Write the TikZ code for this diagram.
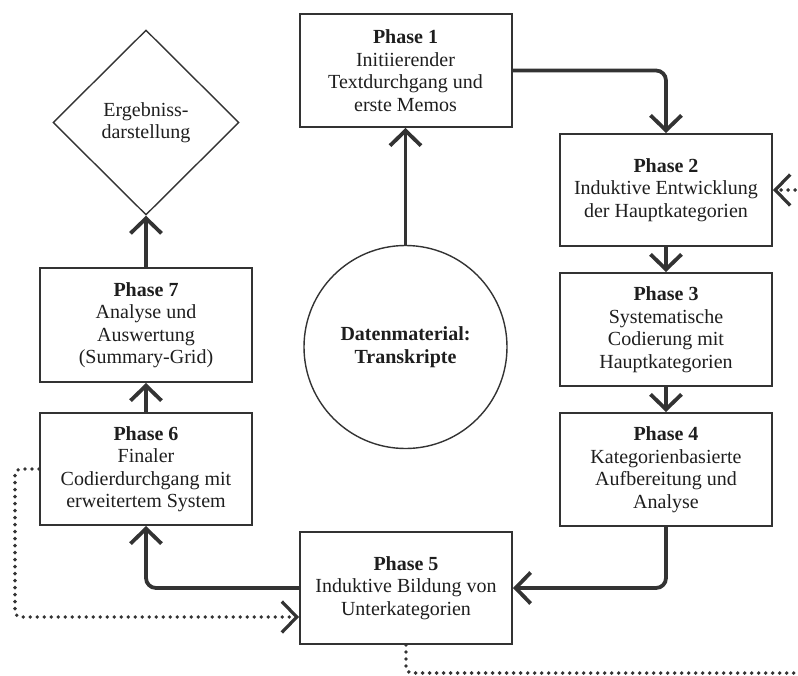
\documentclass[tikz,border=0pt]{standalone}
\usepackage{fontspec}
\setmainfont{Liberation Serif}
\usetikzlibrary{arrows.meta,shapes.geometric}
\definecolor{ink}{HTML}{1E1E1E}
\definecolor{edge}{HTML}{333333}
\tikzset{
  phasebox/.style={draw=edge, line width=2pt, rectangle, minimum width=212pt,
    minimum height=113pt, inner sep=2pt, align=center, text=ink,
    font=\fontsize{20}{22.5}\selectfont},
  flow/.style={draw=edge, line width=3.8pt, rounded corners=10pt,
    -{Straight Barb[length=15pt,width=31pt]}},
  loopback/.style={draw=edge, line width=3.8pt, line cap=round,
    dash pattern=on 0pt off 7pt, rounded corners=6pt,
    -{Straight Barb[length=15pt,width=31pt,line width=3.2pt]}},
}
\begin{document}
\begin{tikzpicture}[x=1pt,y=-1pt]
  \useasboundingbox (0,0) rectangle (798,675);
  \clip (0,0) rectangle (798,675);

  % phases
  \node[phasebox] (p1) at (405.5,70.5) {\textbf{Phase 1}\\Initiierender\\Textdurchgang und\\erste Memos};
  \node[phasebox, minimum height=112pt] (p2) at (666,190) {\textbf{Phase 2}\\Induktive Entwicklung\\der Hauptkategorien};
  \node[phasebox] (p3) at (666,329.5) {\textbf{Phase 3}\\Systematische\\Codierung mit\\Hauptkategorien};
  \node[phasebox] (p4) at (666,469.5) {\textbf{Phase 4}\\Kategorienbasierte\\Aufbereitung und\\Analyse};
  \node[phasebox, minimum height=112pt] (p5) at (406,588) {\textbf{Phase 5}\\Induktive Bildung von\\Unterkategorien};
  \node[phasebox, minimum height=112pt] (p6) at (146,469) {\textbf{Phase 6}\\Finaler\\Codierdurchgang mit\\erweitertem System};
  \node[phasebox, minimum height=114pt] (p7) at (146,325) {\textbf{Phase 7}\\Analyse und\\Auswertung\\(Summary-Grid)};

  % data source and result
  \node[draw=edge, line width=1.4pt, circle, minimum size=203pt, inner sep=0pt,
        align=center, text=ink, font=\fontsize{20}{22.5}\selectfont\bfseries]
        (data) at (405.5,347) {Datenmaterial:\\Transkripte};
  \node[draw=edge, line width=1.4pt, diamond, minimum width=186pt, minimum height=185pt,
        inner sep=0pt, align=center, text=ink, font=\fontsize{20}{22.5}\selectfont]
        (res) at (146,122.5) {Ergebniss-\\darstellung};

  % main flow
  \draw[flow] (data.north) -- (p1.south);
  \draw[flow] (p1.east) -| (p2.north);
  \draw[flow] (p2.south) -- (p3.north);
  \draw[flow] (p3.south) -- (p4.north);
  \draw[flow] (p4.south) |- (p5.east);
  \draw[flow] (p5.west) -| (p6.south);
  \draw[flow] (p6.north) -- (p7.south);
  \draw[flow] (p7.north) -- (res.south);

  % feedback loops
  \coordinate (dl) at (15,617);
  \coordinate (dr) at (818,673);
  \draw[loopback] (p6.west) -| (dl) -- (dl -| p5.west);
  \draw[loopback] (p5.south) |- (dr) |- (p2.east);
\end{tikzpicture}
\end{document}
